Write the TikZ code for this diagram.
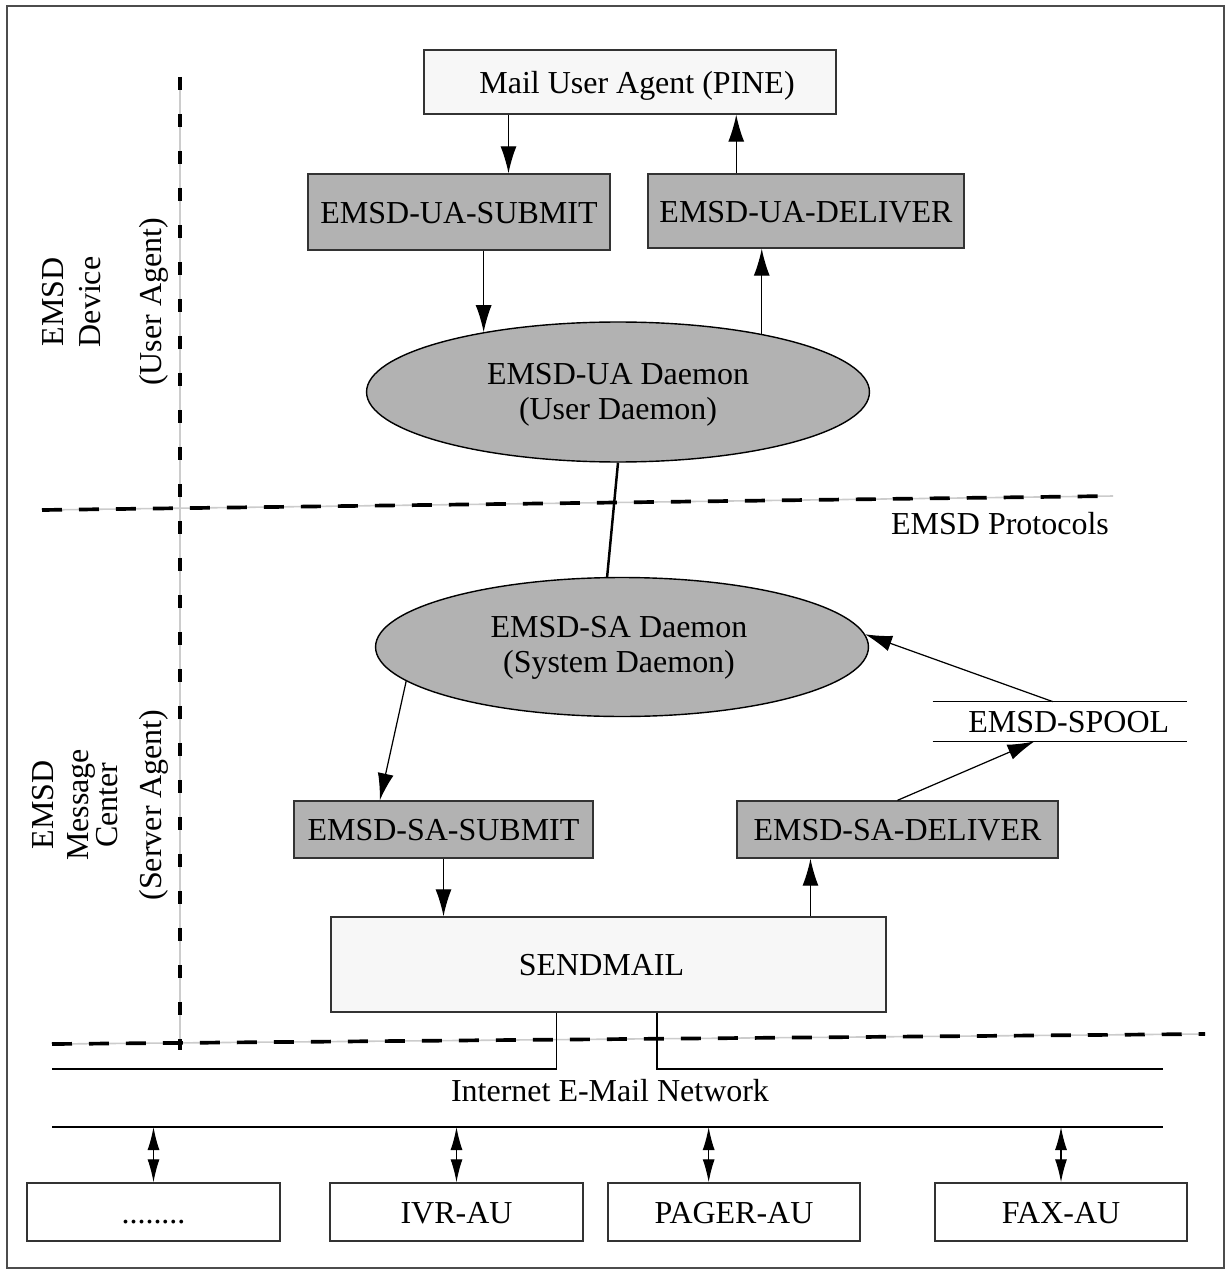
\documentclass[tikz,border=0pt]{standalone}
\usepackage{fontspec}
\setmainfont{Liberation Serif}
\usetikzlibrary{shapes.geometric,arrows.meta,calc}
\begin{document}
\begin{tikzpicture}[x=0.02cm,y=-0.02cm,
  every node/.style={font=\fontsize{18.2}{20}\selectfont, inner sep=0pt},
  txt/.style={text height=16pt, text depth=3pt},
  gbox/.style={draw=black!80, line width=0.8pt, fill=black!30, txt},
  lbox/.style={draw=black!80, line width=0.8pt, fill=black!3, txt},
  wbox/.style={draw=black!80, line width=0.8pt, fill=white, txt},
  ell/.style={ellipse, draw=black, line width=0.8pt, fill=black!30},
  conn/.style={line width=0.7pt},
  arr/.style={conn, -{Latex[length=0.54cm,width=0.32cm]}},
  darr/.style={conn, {Latex[length=0.46cm,width=0.24cm]}-{Latex[length=0.46cm,width=0.24cm]}},
  sepline/.style={line width=0.9pt, black!20},
  hdash/.style={line width=2.1pt, dash pattern=on 0.4cm off 0.34cm},
  vdash/.style={line width=2.1pt, dash pattern=on 0.26cm off 0.48cm},
  side/.style={rotate=90, anchor=base},
]
\useasboundingbox (0,0) rectangle (1231,1273);
\fill[white] (0,0) rectangle (1231,1273);
\draw[black!70, line width=1.1pt] (7,6) rectangle (1224,1268);

% separator lines
\coordinate (v1) at (180,77);  \coordinate (v2) at (180,1050);
\coordinate (h1a) at (42,510); \coordinate (h1b) at (1113,496);
\coordinate (h2a) at (52,1044); \coordinate (h2b) at (1205,1034);
\draw[sepline] (v1) -- (v2);
\draw[sepline] (h1a) -- (h1b);
\draw[sepline] (h2a) -- (h2b);
\draw[vdash] (v1) -- (v2);
\draw[hdash] (h1a) -- (h1b);
\draw[hdash] (h2a) -- (h2b);

% side labels
\node[side] (l1a) at (63,302) {EMSD};
\node[side] (l1b) at (100,302) {Device};
\node[side] (l1c) at (161,302) {(User Agent)};
\node[side] (l2a) at (53,805) {EMSD};
\node[side] (l2b) at (88,805) {Message};
\node[side] (l2c) at (117,805) {Center};
\node[side] (l2d) at (161,805) {(Server Agent)};
\node[txt] (proto) at (1000,523) {EMSD Protocols};

% nodes
\node[lbox, minimum width=8.24cm, minimum height=1.28cm] (mua) at (630,82) {\hspace*{8pt}Mail User Agent (PINE)};
\node[gbox, minimum width=6.04cm, minimum height=1.52cm] (uas) at (459,212) {EMSD-UA-SUBMIT};
\node[gbox, minimum width=6.32cm, minimum height=1.48cm] (uad) at (806,211) {EMSD-UA-DELIVER};
\node[ell, minimum width=10.06cm, minimum height=2.8cm] (uadm) at (618,392) {};
\node[align=center] (uadmt) at ($(uadm.center)+(0,3)$) {EMSD-UA Daemon\\(User Daemon)};
\node[ell, minimum width=9.86cm, minimum height=2.78cm] (sadm) at (622,647) {};
\node[align=center] (sadmt) at ($(sadm.center)+(-3,1)$) {EMSD-SA Daemon\\(System Daemon)};
\node[gbox, minimum width=5.98cm, minimum height=1.14cm] (sas) at (443.5,829.5) {EMSD-SA-SUBMIT};
\node[gbox, minimum width=6.42cm, minimum height=1.14cm] (sad) at (897.5,829.5) {EMSD-SA-DELIVER};
\node[txt, minimum width=5.08cm, minimum height=0.78cm] (spool) at (1060,721.5) {\hspace*{10pt}EMSD-SPOOL};
\draw[conn] (spool.north west) -- (spool.north east);
\draw[conn] (spool.south west) -- (spool.south east);
\node[lbox, minimum width=11.1cm, minimum height=1.9cm] (sm) at (608.5,964.5) {SENDMAIL\hspace*{8pt}};

\node[wbox, minimum width=5.06cm, minimum height=1.16cm] (dots) at (153.5,1212) {........};
\node[wbox, minimum width=5.06cm, minimum height=1.16cm] (ivr) at (456.5,1212) {IVR-AU};
\node[wbox, minimum width=5.04cm, minimum height=1.16cm] (pager) at (734,1212) {PAGER-AU};
\node[wbox, minimum width=5.04cm, minimum height=1.16cm] (fax) at (1061,1212) {FAX-AU};

% connectors (upper part)
\coordinate (p1) at ($(mua.south west)!0.206!(mua.south east)$);
\coordinate (p2) at ($(mua.south west)!0.757!(mua.south east)$);
\draw[arr] (p1) -- (p1 |- uas.north);
\draw[arr] (p2 |- uad.north) -- (p2);
\draw[arr] (uas.south -| uadm.156) -- (uadm.156);
\draw[arr] (uadm.22) -- (uadm.22 |- uad.south);
\draw[line width=1.4pt] (uadm.south) -- (sadm.102);

% connectors (lower part)
\draw[arr] (sadm.189) -- ($(sas.north west)!0.288!(sas.north east)$);
\draw[arr] (sas.south) -- (sas.south |- sm.north);
\coordinate (p8) at ($(sad.south west)!0.23!(sad.south east)$);
\draw[arr] (p8 |- sm.north) -- (p8);
\draw[arr] (sad.north) -- ($(spool.south west)!0.4!(spool.south east)$);
\draw[arr] ($(spool.north west)!0.472!(spool.north east)$) -- (sadm.3);

% network
\node[txt] (net) at (610,1090) {Internet E-Mail Network};
\coordinate (smL) at ($(sm.south west)!0.407!(sm.south east)$);
\coordinate (smR) at ($(sm.south west)!0.587!(sm.south east)$);
\coordinate (nTL) at (52,1069);  \coordinate (nTR) at (1163,1069);
\coordinate (nBL) at (52,1127);  \coordinate (nBR) at (1163,1127);
\draw[conn] (smL) |- (nTL);
\draw[conn] (smR) |- (nTR);
\draw[conn] (nBL) -- (nBR);
\coordinate (pg) at ($(pager.north west)!0.4!(pager.north east)$);
\draw[darr] (dots.north |- nBL) -- (dots.north);
\draw[darr] (ivr.north |- nBL) -- (ivr.north);
\draw[darr] (pg |- nBL) -- (pg);
\draw[darr] (fax.north |- nBL) -- (fax.north);
\end{tikzpicture}
\end{document}
